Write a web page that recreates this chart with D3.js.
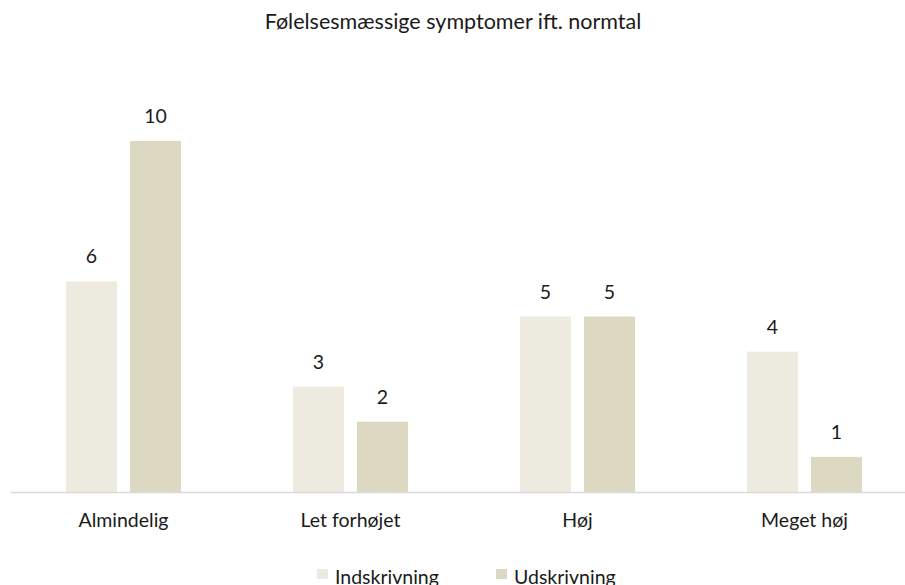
<!DOCTYPE html>
<html><head><meta charset="utf-8">
<script src="https://cdn.jsdelivr.net/npm/d3@7"></script>
<style>body{margin:0;background:#fff}svg{display:block}</style>
</head><body>
<script>
const categories = ["Almindelig", "Let forhøjet", "Høj", "Meget høj"];
const seriesNames = ["Indskrivning", "Udskrivning"];
const indskrivning = [6, 3, 5, 4];
const udskrivning = [10, 2, 5, 1];
const colors = ["#EDEADF", "#DDD8C2"];
const title = "Følelsesmæssige symptomer ift. normtal";

const W = 905, H = 585;
const font = "Lato, 'Open Sans', sans-serif";
const svg = d3.select("body").append("svg").attr("width", W).attr("height", H);

const baseY = 492;
const x0 = d3.scaleBand().domain(categories).range([10, 918]);
const x1 = d3.scaleBand().domain(seriesNames).range([0, x0.bandwidth()]).paddingInner(0.203).paddingOuter(0.875);
const y = d3.scaleLinear().domain([0, 10]).range([baseY, 141]);

const data = categories.map((c, i) => ({cat: c, vals: [indskrivning[i], udskrivning[i]]}));

svg.append("text").attr("x", 453).attr("y", 29).attr("text-anchor", "middle")
  .attr("font-family", font).attr("font-size", 21.5).attr("fill", "#1a1a1a").text(title);

const g = svg.selectAll("g.cat").data(data).join("g").attr("class", "cat")
  .attr("transform", d => `translate(${x0(d.cat)},0)`);

g.selectAll("rect").data(d => d.vals.map((v, j) => ({s: seriesNames[j], v, j}))).join("rect")
  .attr("x", d => x1(d.s)).attr("width", x1.bandwidth())
  .attr("y", d => y(d.v)).attr("height", d => baseY - y(d.v))
  .attr("fill", d => colors[d.j]);

g.selectAll("text.val").data(d => d.vals.map((v, j) => ({s: seriesNames[j], v, j}))).join("text")
  .attr("class", "val")
  .attr("x", d => x1(d.s) + x1.bandwidth() / 2).attr("y", d => y(d.v) - 18)
  .attr("text-anchor", "middle").attr("font-family", font).attr("font-size", 19.5).attr("fill", "#1a1a1a")
  .text(d => d.v);

const xAxis = svg.append("g").attr("transform", `translate(0,${baseY})`)
  .call(d3.axisBottom(x0).tickSize(0));
xAxis.select(".domain").attr("stroke", "#D9D9D9").attr("stroke-width", 1.5);
xAxis.selectAll("text").attr("y", 35).attr("dy", null).attr("font-family", font).attr("font-size", 19.5).attr("fill", "#1a1a1a");

const legend = svg.append("g").selectAll("g").data(seriesNames).join("g")
  .attr("transform", (d, i) => `translate(${[317, 496][i]},569)`);
legend.append("rect").attr("width", 11).attr("height", 10).attr("fill", (d, i) => colors[i]);
legend.append("text").attr("x", 18).attr("y", 15).attr("font-family", font).attr("font-size", 19.5)
  .attr("fill", "#1a1a1a").text(d => d);
</script>
</body></html>
